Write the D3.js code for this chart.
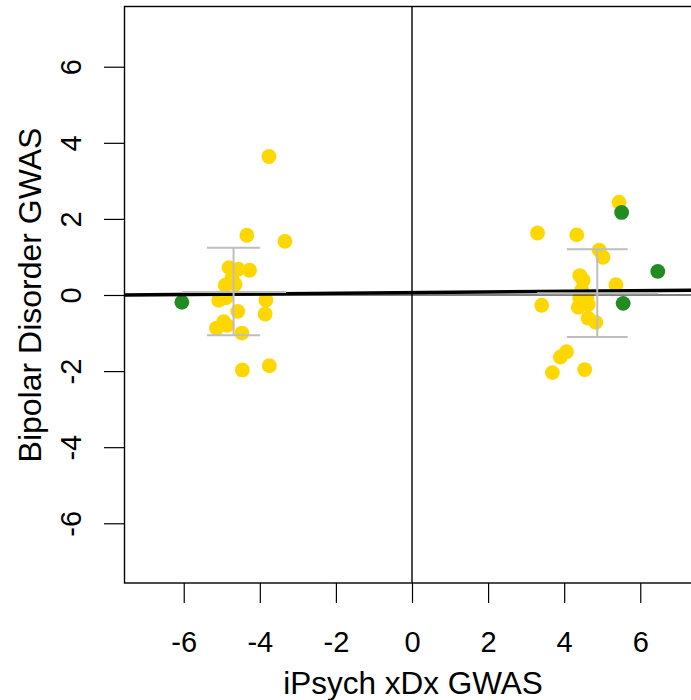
<!DOCTYPE html>
<html>
<head>
<meta charset="utf-8">
<script src="https://cdnjs.cloudflare.com/ajax/libs/d3/7.8.5/d3.min.js"></script>
<style>
	body { margin: 0; background: #fff; }
	svg { display: block; }
</style>
</head>
<body>
<div id="chart"></div>
<script>
// points: [x, y]
const leftGold = [
	[-3.76, 3.64], [-4.34, 1.57], [-3.34, 1.41], [-4.81, 0.72], [-4.57, 0.68],
	[-4.27, 0.65], [-4.73, 0.45], [-4.91, 0.26], [-4.65, 0.28], [-5.08, -0.14],
	[-4.89, -0.07], [-3.84, -0.13], [-4.58, -0.43], [-3.86, -0.5], [-4.95, -0.7],
	[-5.14, -0.87], [-4.86, -0.8], [-4.47, -1.0], [-4.46, -1.97], [-3.75, -1.86]
];
const rightGold = [
	[5.44, 2.44], [3.3, 1.63], [4.33, 1.58], [4.92, 1.18], [5.02, 0.99],
	[4.41, 0.51], [4.5, 0.39], [5.36, 0.27], [4.46, 0.13], [4.41, -0.08],
	[4.6, -0.05], [3.41, -0.27], [4.37, -0.32], [4.63, -0.25], [4.63, -0.61],
	[4.83, -0.72], [4.06, -1.49], [3.9, -1.63], [3.69, -2.04], [4.54, -1.96]
];
const greenPoints = [[-6.05, -0.19], [5.51, 2.17], [6.46, 0.62], [5.55, -0.22]];

// grey summary bars per cluster
const barCenterX = [-4.69, 4.87];
const barCenterY = [0.08, 0.045];
const barLowY = [-1.06, -1.105];
const barHighY = [1.24, 1.2];
const barCapHalf = [0.7, 0.8];
const barLowX = [-6.04, 3.29];
const barHighX = [-3.31, 6.47];

// fitted line
const fitIntercept = 0.063;
const fitSlope = 0.0084;

const ticks = [-6, -4, -2, 0, 2, 4, 6];
const lim = 7.57;

const W = 691, H = 700;
const mLeft = 124, mRight = 700, mTop = 7, mBottom = 583;

const svg = d3.select("#chart").append("svg")
	.attr("width", W)
	.attr("height", H);

const x = d3.scaleLinear().domain([-lim, lim]).range([mLeft, mRight]);
const y = d3.scaleLinear().domain([-lim, lim]).range([mBottom, mTop]);

const font = "'Liberation Sans', Arial, Helvetica, sans-serif";
const plain = d => String(d); // R uses a hyphen, not a minus sign

// x axis
const gx = svg.append("g")
	.attr("transform", `translate(0,${mBottom})`)
	.call(d3.axisBottom(x).tickValues(ticks).tickSize(20).tickPadding(28).tickFormat(plain));
gx.select(".domain").remove();
gx.selectAll("line").attr("stroke", "#000").attr("stroke-width", 1.2);
gx.selectAll("text").style("font-family", font).style("font-size", "29px").attr("fill", "#000");

// y axis with rotated labels
const gy = svg.append("g")
	.attr("transform", `translate(${mLeft},0)`)
	.call(d3.axisLeft(y).tickValues(ticks).tickSize(20).tickFormat(plain));
gy.select(".domain").remove();
gy.selectAll("line").attr("stroke", "#000").attr("stroke-width", 1.2);
gy.selectAll("text")
	.attr("x", 0).attr("y", 0).attr("dy", null)
	.attr("transform", "translate(-43.5,0) rotate(-90)")
	.attr("text-anchor", "middle")
	.style("font-family", font).style("font-size", "29px").attr("fill", "#000");

// axis titles
svg.append("text")
	.attr("x", 413)
	.attr("y", 694)
	.attr("text-anchor", "middle")
	.style("font-family", font).style("font-size", "31.5px")
	.text("iPsych xDx GWAS");
svg.append("text")
	.attr("transform", `translate(41,${(mTop + mBottom) / 2}) rotate(-90)`)
	.attr("text-anchor", "middle")
	.style("font-family", font).style("font-size", "32px")
	.text("Bipolar Disorder GWAS");

const plot = svg.append("g");

// points
plot.selectAll(".gold")
	.data(leftGold.concat(rightGold))
	.join("circle")
	.attr("class", "gold")
	.attr("cx", d => x(d[0]))
	.attr("cy", d => y(d[1]))
	.attr("r", 7.4)
	.attr("fill", "#FFD700");
plot.selectAll(".green")
	.data(greenPoints)
	.join("circle")
	.attr("class", "green")
	.attr("cx", d => x(d[0]))
	.attr("cy", d => y(d[1]))
	.attr("r", 7.4)
	.attr("fill", "#228B22");

// reference lines
plot.append("line")
	.attr("x1", x(-lim)).attr("x2", x(lim))
	.attr("y1", y(0)).attr("y2", y(0))
	.attr("stroke", "#000").attr("stroke-width", 1.2);
plot.append("line")
	.attr("x1", x(0)).attr("x2", x(0))
	.attr("y1", y(-lim)).attr("y2", y(lim))
	.attr("stroke", "#000").attr("stroke-width", 1.4);
plot.append("line")
	.attr("x1", x(-lim)).attr("x2", x(lim))
	.attr("y1", y(fitIntercept - fitSlope * lim))
	.attr("y2", y(fitIntercept + fitSlope * lim))
	.attr("stroke", "#000").attr("stroke-width", 3.6);

// grey bars
const grey = "#BEBEBE";
barCenterX.forEach((cx, i) => {
	const g = plot.append("g").attr("stroke", grey).attr("stroke-width", 2);
	g.append("line")
		.attr("x1", x(cx)).attr("x2", x(cx))
		.attr("y1", y(barLowY[i])).attr("y2", y(barHighY[i]));
	g.append("line")
		.attr("x1", x(cx - barCapHalf[i])).attr("x2", x(cx + barCapHalf[i]))
		.attr("y1", y(barLowY[i])).attr("y2", y(barLowY[i]));
	g.append("line")
		.attr("x1", x(cx - barCapHalf[i])).attr("x2", x(cx + barCapHalf[i]))
		.attr("y1", y(barHighY[i])).attr("y2", y(barHighY[i]));
	g.append("line")
		.attr("x1", x(barLowX[i])).attr("x2", x(barHighX[i]))
		.attr("y1", y(barCenterY[i])).attr("y2", y(barCenterY[i]));
});

// box
svg.append("rect")
	.attr("x", mLeft + 0.5).attr("y", mTop - 0.5)
	.attr("width", mRight - mLeft).attr("height", mBottom - mTop + 0.5)
	.attr("fill", "none").attr("stroke", "#000").attr("stroke-width", 1.4);
</script>
</body>
</html>
